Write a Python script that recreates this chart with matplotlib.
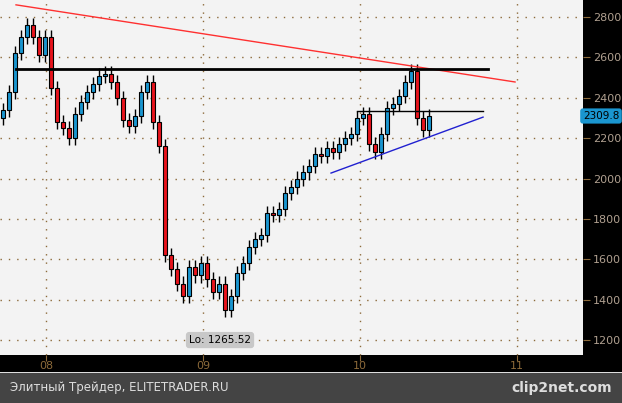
import matplotlib
matplotlib.use("Agg")
import matplotlib.pyplot as plt
from matplotlib.patches import Rectangle
import numpy as np

start_year = 2007.726
step = 6/157.0
closes = [2340,2430,2620,2700,2760,2700,2610,2700,2450,2280,2250,2200,2320,2380,2430,2470,2510,2520,2480,2400,2290,2260,2310,2430,2480,2280,2160,
          1620,1550,1480,1420,1560,1520,1580,1500,1440,1480,1350,1420,1530,1580,1660,1700,1720,1830,1820,1850,1930,1960,2000,2030,2060,2120,2110,2150,2130,2170,2200,2220,2300,2320,2170,2130,2220,2350,2370,2410,2480,2530,2300,2240,2310]
first_open = 2300
wick = 35
yticks = [1200,1400,1600,1800,2000,2200,2400,2600,2800]
xticks = [2008,2009,2010,2011]
xticklabels = ["08","09","10","11"]
last_price = "2309.8"
low_label = "Lo: 1265.52"

W,H = 622,403
fig = plt.figure(figsize=(W/100,H/100), dpi=100)
fig.patch.set_facecolor("black")
ax = fig.add_axes([0, 48/H, 583/W, 355/H])
ax.set_facecolor("#f3f3f3")
ax.set_xlim(2007.707, 2011.420)
ax.set_ylim(1126, 2884)
brown = "#8c6a3a"
ax.grid(True, color=brown, linestyle=(0,(1,5)), linewidth=1)
ax.set_yticks(yticks); ax.set_xticks(xticks); ax.set_xticklabels(xticklabels)
ax.yaxis.tick_right()
ax.tick_params(axis="y", colors=brown, labelcolor="#b0a090", labelsize=8, length=5, pad=2)
ax.tick_params(axis="x", colors=brown, labelcolor=brown, labelsize=8, length=4, pad=0)
for s in ax.spines.values(): s.set_visible(False)

opens = [first_open] + closes[:-1]
bw = step*0.75
for i,(o,c) in enumerate(zip(opens,closes)):
    x = start_year + i*step
    ax.vlines(x, min(o,c)-wick, max(o,c)+wick, color="black", lw=1, zorder=3)
    col = "#1a96d0" if c>=o else "#e8141c"
    ax.add_patch(Rectangle((x-bw/2, min(o,c)), bw, max(abs(c-o),4), facecolor=col, edgecolor="black", lw=0.8, zorder=4))

def yr(px): return 2008+(px-46)/157.0
ax.plot([yr(16),yr(515)],[2860,2478], color="#ff3030", lw=1, zorder=5)
ax.plot([yr(16),yr(488)],[2542,2542], color="black", lw=2, zorder=5)
ax.plot([yr(357),yr(483)],[2334,2334], color="black", lw=1, zorder=5)
ax.plot([yr(331),yr(483)],[2027,2304], color="#2020d0", lw=1, zorder=5)

ax.text(yr(220), 1200, low_label, fontsize=7.5, ha="center", va="center", color="black", zorder=6,
        bbox=dict(boxstyle="round,pad=0.3", fc="#c8c8c8", ec="none"))
fig.text(601/W, 1-116/H, last_price, fontsize=7.5, ha="center", va="center", color="black",
         bbox=dict(boxstyle="round,pad=0.25", fc="#1a96d0", ec="none"))

fig.patches.append(Rectangle((0,0),1,30/H, transform=fig.transFigure, facecolor="#444444", edgecolor="none", zorder=-5))
fig.patches.append(Rectangle((0,30/H),1,1.2/H, transform=fig.transFigure, facecolor="#dddddd", edgecolor="none", zorder=-5))
fig.text(10/W, 15/H, "Элитный Трейдер, ELITETRADER.RU", color="#dddddd", fontsize=8.5, va="center")
fig.text(612/W, 15/H, "clip2net.com", color="#dddddd", fontsize=10, va="center", ha="right", weight="bold")
fig.savefig("out.png", dpi=100, facecolor="black")
